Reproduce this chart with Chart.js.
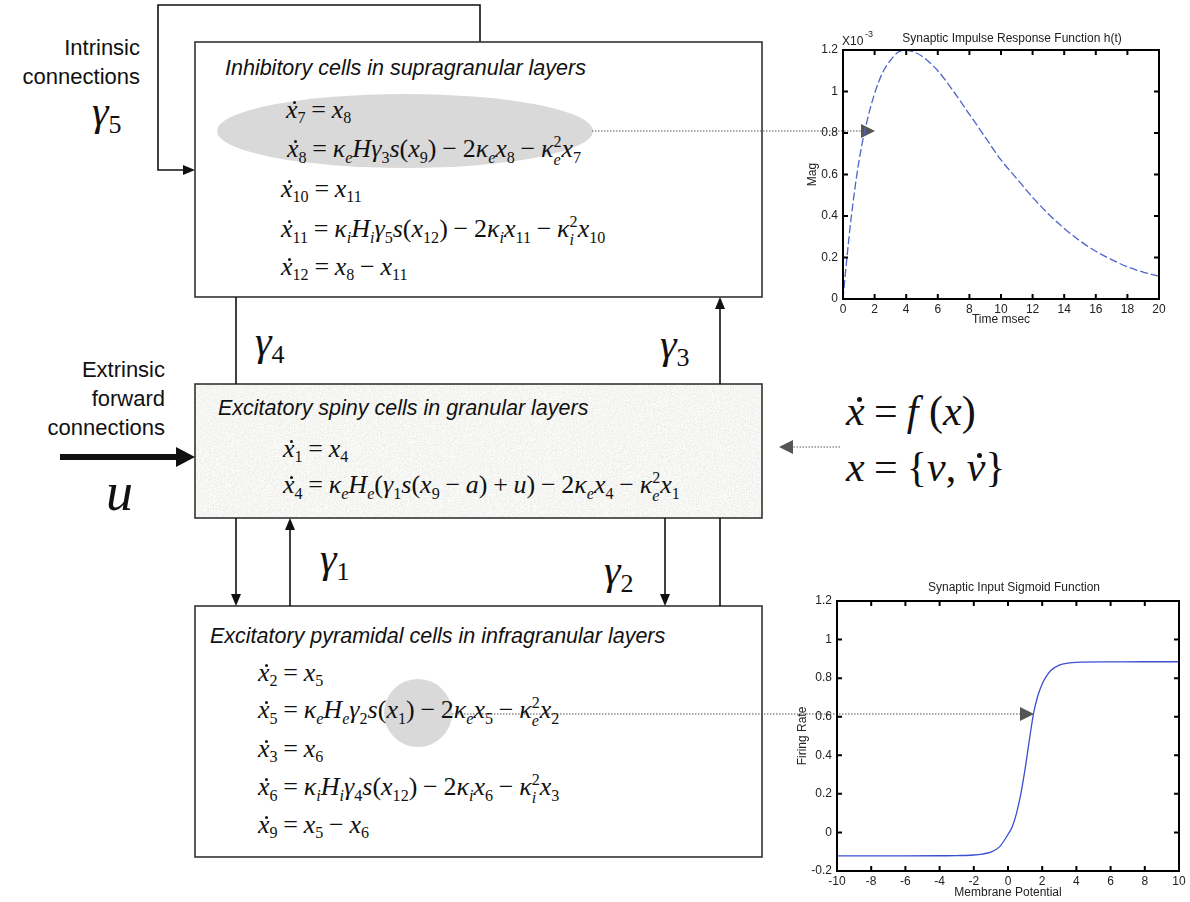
<!DOCTYPE html>
<html>
<head>
<meta charset="utf-8">
<script src="https://cdn.jsdelivr.net/npm/chart.js@4.4.0/dist/chart.umd.min.js"></script>
<style>
html, body { margin: 0; padding: 0; background: #fff; }
#stage { position: relative; width: 1190px; height: 902px; overflow: hidden; }
#diagram { position: absolute; left: 0; top: 0; }
.t { position: absolute; white-space: nowrap; color: #111; }
.lab { font-family: "Liberation Sans", Arial, sans-serif; font-size: 22px; line-height: 29px; text-align: right; }
.head { font-family: "Liberation Sans", Arial, sans-serif; font-style: italic; font-size: 21.5px; line-height: 28px; }
.eq { font-family: "Liberation Serif", "Times New Roman", serif; font-size: 26px; line-height: 1.2; }
.eq sub, .gam sub { font-size: 0.62em; vertical-align: -0.32em; line-height: 0; font-style: normal; }
.eq .op { margin: 0 0.22em; }
.ss { display: inline-block; font-size: 0.62em; line-height: 1.1; vertical-align: -0.45em; font-style: normal; }
.xd { font-style: italic; position: relative; display: inline-block; }
.xd::after { content: ""; position: absolute; width: 0.12em; height: 0.12em; border-radius: 50%; background: #111; left: 0.25em; top: 0.26em; }
.gam { font-family: "Liberation Serif", "Times New Roman", serif; font-style: italic; font-size: 42px; line-height: 48px; }
.gam sub { font-style: normal; }
canvas { position: absolute; }
</style>
</head>
<body>
<div id="stage">
  <svg id="diagram" width="1190" height="902"></svg>
  <div id="texts"></div>
  <canvas id="impulseChart" width="400" height="330" style="left:790px;top:0px;width:400px;height:330px"></canvas>
  <canvas id="sigmoidChart" width="400" height="322" style="left:790px;top:580px;width:400px;height:322px"></canvas>
</div>
<script>
// Synaptic impulse response h(t), Mag in units of 1e-3
const impulseTime = [0, 0.25, 0.5, 1, 1.5, 2, 2.5, 3, 3.5, 4, 4.5, 5, 6, 7, 8, 9, 10, 11, 12, 13, 14, 15, 16, 17, 18, 19, 20];
const impulseMag = [0, 0.2, 0.38, 0.66, 0.85, 0.99, 1.09, 1.15, 1.19, 1.2, 1.19, 1.17, 1.1, 1.0, 0.89, 0.78, 0.67, 0.58, 0.49, 0.41, 0.34, 0.28, 0.23, 0.19, 0.155, 0.13, 0.11];

// Synaptic input sigmoid
const potential = [-10, -8, -6, -4, -3, -2, -1.5, -1, -0.5, 0, 0.25, 0.5, 0.75, 1, 1.25, 1.5, 1.75, 2, 2.25, 2.5, 3, 3.5, 4, 6, 8, 10];
const firingRate = [-0.122, -0.122, -0.122, -0.121, -0.12, -0.117, -0.112, -0.102, -0.075, -0.01, 0.03, 0.1, 0.2, 0.33, 0.48, 0.62, 0.71, 0.77, 0.81, 0.84, 0.868, 0.878, 0.882, 0.884, 0.885, 0.885];

const impulseTicksX = { min: 0, max: 20, step: 2 };
const impulseTicksY = { min: 0, max: 1.2, step: 0.2 };
const sigmoidTicksX = { min: -10, max: 10, step: 2 };
const sigmoidTicksY = { min: -0.2, max: 1.2, step: 0.2 };

document.addEventListener("DOMContentLoaded", function() {
    drawDiagram();
    writeTexts();
    makeCharts();
});

function arrowHead(x, y, dir, len, half, fill) {
    // dir: 'r','l','u','d' ; (x,y) is the tip
    let p;
    if (dir === "r") p = [[x, y], [x - len, y - half], [x - len, y + half]];
    if (dir === "l") p = [[x, y], [x + len, y - half], [x + len, y + half]];
    if (dir === "u") p = [[x, y], [x - half, y + len], [x + half, y + len]];
    if (dir === "d") p = [[x, y], [x - half, y - len], [x + half, y - len]];
    return `<polygon points="${p.map(q => q.join(",")).join(" ")}" fill="${fill}"/>`;
}

function drawDiagram() {
    const svg = document.getElementById("diagram");
    const ln = (x1, y1, x2, y2, w) => `<line x1="${x1}" y1="${y1}" x2="${x2}" y2="${y2}" stroke="#111" stroke-width="${w || 1.6}"/>`;
    const dot = (x1, y1, x2, y2) => `<line x1="${x1}" y1="${y1}" x2="${x2}" y2="${y2}" stroke="#555" stroke-width="1.2" stroke-dasharray="1.5,1.5"/>`;
    let s = `
    <defs>
      <filter id="grain" x="0" y="0" width="100%" height="100%">
        <feTurbulence type="fractalNoise" baseFrequency="0.75" numOctaves="2" seed="7"/>
        <feColorMatrix type="saturate" values="0"/>
        <feComponentTransfer>
          <feFuncR type="linear" slope="0.5" intercept="0.67"/>
          <feFuncG type="linear" slope="0.5" intercept="0.67"/>
          <feFuncB type="linear" slope="0.5" intercept="0.65"/>
          <feFuncA type="linear" slope="0" intercept="1"/>
        </feComponentTransfer>
      </filter>
    </defs>`;
    // feedback loop gamma5
    s += `<polyline points="480,42 480,5 158,5 158,170 184,170" fill="none" stroke="#111" stroke-width="1.6"/>`;
    s += arrowHead(195, 170, "r", 12, 5, "#111");
    // boxes
    s += `<rect x="195" y="42" width="567" height="255" fill="#fff" stroke="#333" stroke-width="1.6"/>`;
    s += `<rect x="195" y="384" width="567" height="134" filter="url(#grain)"/>`;
    s += `<rect x="195" y="384" width="567" height="134" fill="none" stroke="#333" stroke-width="1.6"/>`;
    s += `<rect x="195" y="606" width="567" height="251" fill="#fff" stroke="#333" stroke-width="1.6"/>`;
    // highlight shapes
    s += `<ellipse cx="405" cy="131" rx="188" ry="37" fill="#d9d9d9"/>`;
    s += `<circle cx="418" cy="713" r="34" fill="#d9d9d9"/>`;
    // intrinsic connections
    s += ln(236, 297, 236, 384);
    s += ln(236, 518, 236, 594) + arrowHead(236, 606, "d", 12, 5, "#111");
    s += ln(290, 606, 290, 530) + arrowHead(290, 518, "u", 12, 5, "#111");
    s += ln(665, 518, 665, 594) + arrowHead(665, 606, "d", 12, 5, "#111");
    s += ln(720, 606, 720, 518);
    s += ln(720, 384, 720, 309) + arrowHead(720, 297, "u", 12, 5, "#111");
    // extrinsic input
    s += ln(60, 457, 178, 457, 6) + arrowHead(195, 457, "r", 19, 10, "#111");
    // dotted pointers
    s += dot(592, 131, 862, 131) + arrowHead(875, 131, "r", 14, 7, "#555");
    s += dot(452, 714, 1020, 714) + arrowHead(1034, 714, "r", 14, 7, "#555");
    s += dot(840, 447, 792, 447) + arrowHead(779, 447, "l", 14, 7, "#555");
    svg.innerHTML = s;
}

function writeTexts() {
    const X = n => `<i>x</i><sub>${n}</sub>`;
    const XD = n => `<span class="xd">x</span><sub>${n}</sub>`;
    const K = c => `<i>κ</i><sub><i>${c}</i></sub>`;
    const K2 = c => `<i>κ</i><span class="ss">2<br><i>${c}</i></span>`;
    const H = c => c ? `<i>H</i><sub><i>${c}</i></sub>` : `<i>H</i>`;
    const G = n => `<i>γ</i><sub>${n}</sub>`;
    const S = a => `<i>s</i>(${a})`;
    const EQ = `<span class="op">=</span>`;
    const MI = `<span class="op">−</span>`;
    const PL = `<span class="op">+</span>`;

    const equations = [
        [XD(7) + EQ + X(8), 286, 113],
        [XD(8) + EQ + K("e") + H() + G(3) + S(X(9)) + MI + "2" + K("e") + X(8) + MI + K2("e") + X(7), 287, 152],
        [XD(10) + EQ + X(11), 281, 192],
        [XD(11) + EQ + K("i") + H("i") + G(5) + S(X(12)) + MI + "2" + K("i") + X(11) + MI + K2("i") + X(10), 281, 232],
        [XD(12) + EQ + X(8) + MI + X(11), 281, 270],
        [XD(1) + EQ + X(4), 283, 452],
        [XD(4) + EQ + K("e") + H("e") + "(" + G(1) + S(X(9) + MI + "<i>a</i>") + PL + "<i>u</i>)" + MI + "2" + K("e") + X(4) + MI + K2("e") + X(1), 283, 488],
        [XD(2) + EQ + X(5), 258, 676],
        [XD(5) + EQ + K("e") + H("e") + G(2) + S(X(1)) + MI + "2" + K("e") + X(5) + MI + K2("e") + X(2), 258, 713],
        [XD(3) + EQ + X(6), 258, 752],
        [XD(6) + EQ + K("i") + H("i") + G(4) + S(X(12)) + MI + "2" + K("i") + X(6) + MI + K2("i") + X(3), 258, 790],
        [XD(9) + EQ + X(5) + MI + X(6), 258, 828]
    ];
    const heads = [
        ["Inhibitory cells in supragranular layers", 225, 68],
        ["Excitatory spiny cells in granular layers", 218, 408],
        ["Excitatory pyramidal cells in infragranular layers", 210, 636]
    ];
    const gammas = [
        [5, 92, 115], [4, 255, 345], [3, 660, 348], [1, 320, 562], [2, 604, 574]
    ];

    let h = "";
    equations.forEach(e => {
        h += `<div class="t eq" style="left:${e[1]}px;top:${e[2] - 19}px">${e[0]}</div>`;
    });
    heads.forEach(e => {
        h += `<div class="t head" style="left:${e[1]}px;top:${e[2] - 14}px">${e[0]}</div>`;
    });
    gammas.forEach(g => {
        h += `<div class="t gam" style="left:${g[1]}px;top:${g[2] - 28}px">γ<sub>${g[0]}</sub></div>`;
    });
    h += `<div class="t lab" style="left:0;width:140px;top:33px">Intrinsic<br>connections</div>`;
    h += `<div class="t lab" style="left:0;width:165px;top:355px">Extrinsic<br>forward<br>connections</div>`;
    h += `<div class="t gam" style="left:106px;top:462px;font-size:54px;line-height:60px">u</div>`;
    h += `<div class="t eq" style="left:846px;top:386px;font-size:42px"><span class="xd">x</span><span class="op">=</span><i>f</i> (<i>x</i>)</div>`;
    h += `<div class="t eq" style="left:846px;top:442px;font-size:42px"><i>x</i><span class="op">=</span>{<i>v</i>, <span class="xd">v</span>}</div>`;
    document.getElementById("texts").innerHTML = h;
}

const matlabBox = {
    id: "matlabBox",
    afterDraw(chart, args, o) {
        const ctx = chart.ctx;
        const a = chart.chartArea;
        const sx = chart.scales.x;
        const sy = chart.scales.y;
        ctx.save();
        ctx.strokeStyle = "#000";
        ctx.lineWidth = 2;
        ctx.strokeRect(a.left, a.top, a.right - a.left, a.bottom - a.top);
        ctx.beginPath();
        sx.ticks.forEach(t => {
            const p = sx.getPixelForValue(t.value);
            ctx.moveTo(p, a.bottom); ctx.lineTo(p, a.bottom - o.tick);
            ctx.moveTo(p, a.top); ctx.lineTo(p, a.top + o.tick);
        });
        sy.ticks.forEach(t => {
            const p = sy.getPixelForValue(t.value);
            ctx.moveTo(a.left, p); ctx.lineTo(a.left + o.tick, p);
            ctx.moveTo(a.right, p); ctx.lineTo(a.right - o.tick, p);
        });
        ctx.stroke();

        ctx.fillStyle = "#222";
        ctx.font = "12px 'Liberation Sans', Arial, sans-serif";
        ctx.textAlign = "center";
        ctx.textBaseline = "middle";
        ctx.fillText(o.title, (a.left + a.right) / 2 + o.titleDx, a.top + o.titleDy);
        ctx.fillText(o.xLabel, (a.left + a.right) / 2, a.bottom + o.xLabelDy);
        if (o.exponent) {
            ctx.textAlign = "left";
            ctx.fillText("X10", a.left - 1, a.top - 8);
            ctx.font = "9px 'Liberation Sans', Arial, sans-serif";
            ctx.fillText(o.exponent, a.left + 22, a.top - 15);
            ctx.font = "12px 'Liberation Sans', Arial, sans-serif";
            ctx.textAlign = "center";
        }
        ctx.translate(a.left + o.yLabelDx, (a.top + a.bottom) / 2);
        ctx.rotate(-Math.PI / 2);
        ctx.fillText(o.yLabel, 0, 0);
        ctx.restore();
    }
};

function tickText(v) {
    const r = Math.round(v * 10) / 10;
    return Math.abs(r) < 1e-9 ? "0" : String(r);
}

function chartConfig(xs, ys, color, dash, tx, ty, geo, box) {
    const tickFont = { family: "'Liberation Sans', Arial, sans-serif", size: 12 };
    return {
        type: "line",
        data: {
            datasets: [{
                data: xs.map((v, i) => ({ x: v, y: ys[i] })),
                borderColor: color,
                borderWidth: 1.3,
                borderDash: dash,
                pointRadius: 0,
                cubicInterpolationMode: "monotone",
                fill: false
            }]
        },
        options: {
            responsive: false,
            animation: false,
            devicePixelRatio: 1,
            layout: { padding: { top: geo.top, right: geo.right, left: 0, bottom: 0 } },
            plugins: { legend: { display: false }, tooltip: { enabled: false }, matlabBox: box },
            scales: {
                x: {
                    type: "linear", min: tx.min, max: tx.max,
                    ticks: { stepSize: tx.step, padding: 3, color: "#222", font: tickFont, maxRotation: 0, autoSkip: false, callback: tickText },
                    grid: { display: false, drawTicks: false }, border: { display: false },
                    afterFit: s => { s.height = geo.xHeight; }
                },
                y: {
                    type: "linear", min: ty.min, max: ty.max,
                    ticks: { stepSize: ty.step, padding: 5, color: "#222", font: tickFont, autoSkip: false, callback: tickText },
                    grid: { display: false, drawTicks: false }, border: { display: false },
                    afterFit: s => { s.width = geo.yWidth; }
                }
            }
        },
        plugins: [matlabBox]
    };
}

function makeCharts() {
    new Chart(document.getElementById("impulseChart"), chartConfig(
        impulseTime, impulseMag, "#4f63c9", [8, 3], impulseTicksX, impulseTicksY,
        { top: 50, right: 31, yWidth: 53, xHeight: 31 },
        { tick: 5, title: "Synaptic Impulse Response Function h(t)", titleDx: 11, titleDy: -11,
          xLabel: "Time msec", xLabelDy: 21, yLabel: "Mag", yLabelDx: -30, exponent: "-3" }
    ));
    new Chart(document.getElementById("sigmoidChart"), chartConfig(
        potential, firingRate, "#3a4fd2", [], sigmoidTicksX, sigmoidTicksY,
        { top: 21, right: 11, yWidth: 47, xHeight: 31 },
        { tick: 5, title: "Synaptic Input Sigmoid Function", titleDx: 6, titleDy: -13,
          xLabel: "Membrane Potential", xLabelDy: 22, yLabel: "Firing Rate", yLabelDx: -34, exponent: null }
    ));
}
</script>
</body>
</html>
